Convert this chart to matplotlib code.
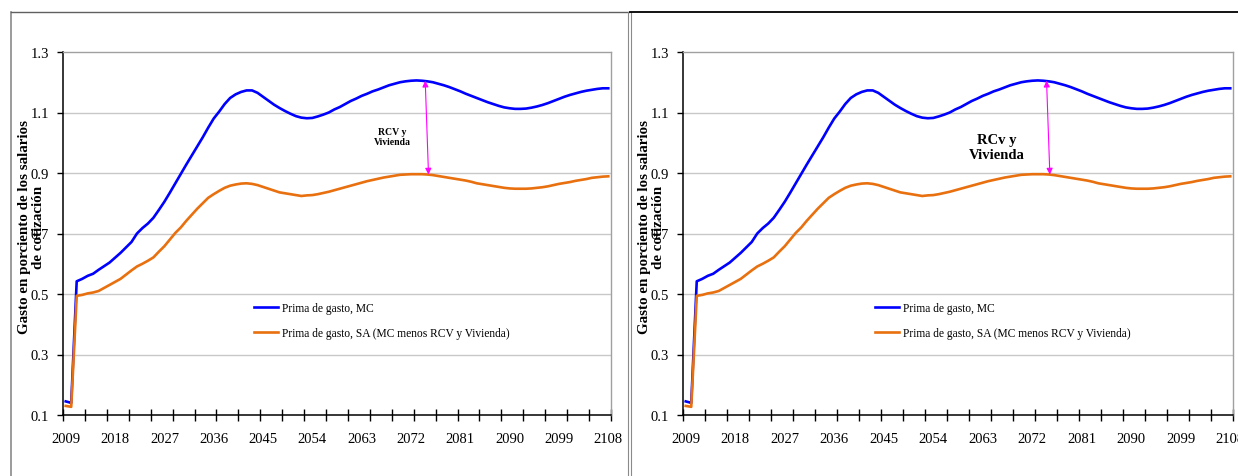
import matplotlib
matplotlib.use("Agg")
import matplotlib.pyplot as plt
from matplotlib.lines import Line2D

plt.rcParams['font.family'] = ['Liberation Serif', 'DejaVu Serif']

years = list(range(2009, 2109))

prima_mc = [
    0.145, 0.140, 0.542, 0.550, 0.560, 0.567, 0.580, 0.592, 0.604, 0.620,
    0.636, 0.654, 0.672, 0.700, 0.718, 0.733, 0.752, 0.778, 0.805, 0.835,
    0.866, 0.897, 0.928, 0.958, 0.988, 1.018, 1.050, 1.080, 1.103, 1.128,
    1.148, 1.160, 1.168, 1.173, 1.173, 1.165, 1.152, 1.139, 1.126, 1.115,
    1.105, 1.096, 1.088, 1.083, 1.081, 1.082, 1.087, 1.093, 1.100, 1.110,
    1.118, 1.128, 1.138, 1.146, 1.155, 1.162, 1.170, 1.176, 1.183, 1.190,
    1.195, 1.200, 1.203, 1.205, 1.206, 1.205, 1.203, 1.200, 1.195, 1.190,
    1.184, 1.177, 1.170, 1.162, 1.155, 1.148, 1.141, 1.134, 1.128, 1.122,
    1.117, 1.114, 1.112, 1.112, 1.113, 1.116, 1.120, 1.125, 1.131, 1.138,
    1.145, 1.152, 1.158, 1.163, 1.168, 1.172, 1.175, 1.178, 1.180, 1.180,
]

prima_sa = [
    0.130, 0.127, 0.494, 0.497, 0.502, 0.505, 0.510, 0.520, 0.530, 0.540,
    0.550, 0.564, 0.578, 0.591, 0.600, 0.610, 0.621, 0.640, 0.658, 0.680,
    0.702, 0.720, 0.742, 0.762, 0.782, 0.800, 0.818, 0.830, 0.841, 0.851,
    0.858, 0.862, 0.865, 0.866, 0.864, 0.860, 0.854, 0.848, 0.842, 0.836,
    0.833, 0.830, 0.827, 0.824, 0.826, 0.827, 0.830, 0.834, 0.838, 0.843,
    0.848, 0.853, 0.858, 0.863, 0.868, 0.873, 0.877, 0.881, 0.885, 0.888,
    0.891, 0.894, 0.895, 0.896, 0.896, 0.896, 0.895, 0.893, 0.890, 0.887,
    0.884, 0.881, 0.878, 0.875, 0.871, 0.866, 0.863, 0.860, 0.857, 0.854,
    0.851, 0.849, 0.848, 0.848, 0.848, 0.849, 0.851, 0.853, 0.856, 0.860,
    0.864, 0.867, 0.870, 0.874, 0.877, 0.880, 0.884, 0.886, 0.888, 0.889,
]

label_mc = "Prima de gasto, MC"
label_sa = "Prima de gasto, SA (MC menos RCV y Vivienda)"
ylabel = "Gasto en porciento de los salarios\nde cotización"
y_ticks = [0.1, 0.3, 0.5, 0.7, 0.9, 1.1, 1.3]
x_labels = years[::9]

# arrow between the two curves, and its note
arrow_top = (2074.6, 1.205)
arrow_bottom = (2075.2, 0.895)


def draw_panel(ax, note, note_xy, note_size):
    ax.plot(years, prima_mc, color='#0000FF', lw=1.9, label=label_mc)
    ax.plot(years, prima_sa, color='#E8700F', lw=1.9, label=label_sa)

    ax.set_xlim(2008.5, 2108.5)
    ax.set_ylim(0.1, 1.3)
    ax.set_yticks(y_ticks)
    ax.set_yticklabels([f"{v:.1f}" for v in y_ticks], fontsize=10.5)
    ax.set_xticks(x_labels)
    ax.set_xticklabels([str(y) for y in x_labels], fontsize=10.5)
    ax.set_xticks([2008.5 + 4 * k for k in range(26)], minor=True)
    ax.tick_params(axis='x', which='major', length=0, pad=12)
    ax.tick_params(axis='x', which='minor', direction='inout', length=8, width=1)
    ax.tick_params(axis='y', direction='out', length=4, width=1, pad=6)

    for y in y_ticks[1:-1]:
        ax.axhline(y, color='#c8c8c8', lw=1, zorder=0)
    for s in ['left', 'bottom']:
        ax.spines[s].set_color('black')
        ax.spines[s].set_linewidth(1.1)
    for s in ['top', 'right']:
        ax.spines[s].set_color('#a0a0a0')
        ax.spines[s].set_linewidth(1)

    ax.set_ylabel(ylabel, fontsize=10.8, fontweight='bold', ha='center', va='center',
                  linespacing=1.1)
    ax.yaxis.set_label_coords(-0.058, 0.52)

    ax.annotate('', xy=arrow_bottom, xytext=arrow_top,
                arrowprops=dict(arrowstyle='<|-|>', color='#FF00FF', lw=0.8,
                                mutation_scale=9, shrinkA=0, shrinkB=0))
    ax.text(note_xy[0], note_xy[1], note, fontsize=note_size, fontweight='bold',
            ha='center', va='center', linespacing=1.2)

    ax.legend(loc='upper left', bbox_to_anchor=(0.349, 0.31), frameon=False,
              fontsize=8.3, handlelength=2.1, handletextpad=0.3, labelspacing=1.1,
              borderpad=0, borderaxespad=0)


fig = plt.figure(figsize=(12.38, 4.77), dpi=100)

ax1 = fig.add_axes([63 / 1238, 1 - 416 / 477, 548 / 1238, 363 / 477])
draw_panel(ax1, "RCV y\nVivienda", (2068.6, 1.02), 7)

ax2 = fig.add_axes([683 / 1238, 1 - 416 / 477, 550 / 1238, 363 / 477])
draw_panel(ax2, "RCv y\nVivienda", (2065.6, 0.985), 10.5)

# frames of the two pasted charts
W, H = 1238, 477
def fline(x0, y0, x1, y1, color, lw):
    fig.add_artist(Line2D([x0 / W, x1 / W], [1 - y0 / H, 1 - y1 / H],
                          color=color, lw=lw, transform=fig.transFigure))

fline(11, 13, 11, 477, '#8a8a8a', 1.2)
fline(11, 13, 629, 13, '#606060', 1)
fline(628, 13, 628, 477, '#8a8a8a', 0.8)
fline(631, 13, 631, 477, '#8a8a8a', 0.8)
fline(630, 13, 1238, 13, 'black', 1.3)

fig.savefig("out.png", dpi=100)
